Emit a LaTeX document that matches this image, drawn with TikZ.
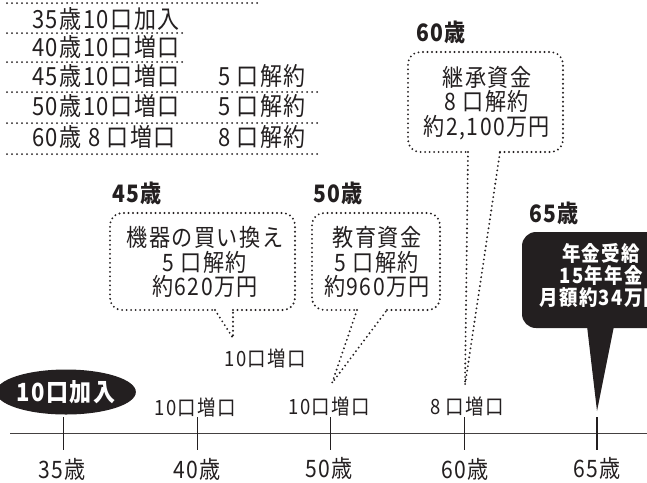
\documentclass[tikz,border=0pt]{standalone}
\usepackage{fontspec}
\setmainfont{Noto Sans CJK JP}[FakeStretch=0.88, LetterSpace=6]
\usetikzlibrary{shapes.geometric}
\definecolor{ink}{RGB}{35,31,32}
\begin{document}
\begin{tikzpicture}[x=1pt,y=-1pt,
  dotline/.style={draw=ink, line width=2.1pt, line cap=round, dash pattern=on 0pt off 4.5pt},
  tabline/.style={draw=ink, line width=2pt, line cap=round, dash pattern=on 0pt off 5pt},
  tbl/.style={font=\fontsize{25}{25}\selectfont, anchor=west, text=ink, inner sep=0pt},
  agehead/.style={font=\bfseries\fontsize{24}{24}\selectfont, text=ink, inner sep=0pt},
  bubtext/.style={font=\fontsize{24}{24.5}\selectfont, text=ink, align=center, inner sep=0pt},
  inc/.style={font=\fontsize{21}{21}\selectfont, text=ink, inner sep=0pt},
  year/.style={font=\fontsize{24}{24}\selectfont, text=ink, inner sep=0pt},
  tick/.style={draw=ink, line width=0.9pt}]
\useasboundingbox (0,0) rectangle (647,482);

% top table
\foreach \yy/\xe in {3/260, 33/182, 62/182, 92/317, 123/317, 154/317}
  \draw[tabline] (7,\yy) -- (\xe,\yy);
\node[tbl] (r1) at (32,19) {35歳10口加入};
\node[tbl] (r2) at (32,47) {40歳10口増口};
\node[tbl] (r3) at (32,76) {45歳10口増口};
\node[tbl] (r3b) at (218,76) {5 口解約};
\node[tbl] (r4) at (32,106) {50歳10口増口};
\node[tbl] (r4b) at (218,106) {5 口解約};
\node[tbl] (r5) at (32,137) {60歳 8 口増口};
\node[tbl] (r5b) at (218,137) {8 口解約};

% 45 bubble
\node[agehead] (h45) at (137,193) {45歳};
\node[bubtext] (b45) at (205,262) {機器の買い換え\\5 口解約\\約620万円};
\coordinate (b45l) at (215,310);
\coordinate (b45r) at (233,310);
\coordinate (tip45) at (233,338);
\draw[dotline, rounded corners=12] (b45r) -- (295,310) -- (295,213) -- (110,213) -- (110,310) -- (b45l);
\draw[dotline] (b45l) -- (tip45) -- (b45r);
\node[inc] (i45) at (265,358) {10口増口};

% 50 bubble
\node[agehead] (h50) at (338,193) {50歳};
\node[bubtext] (b50) at (377,262) {教育資金\\5 口解約\\約960万円};
\coordinate (b50l) at (357,310);
\coordinate (b50r) at (387,310);
\coordinate (tip50) at (332,383);
\draw[dotline, rounded corners=12] (b50r) -- (440,310) -- (440,213) -- (312,213) -- (312,310) -- (b50l);
\draw[dotline] (b50l) -- (tip50) -- (b50r);

% 60 bubble
\node[agehead] (h60) at (441,32) {60歳};
\node[bubtext] (b60) at (487,103) {継承資金\\8 口解約\\約2,100万円};
\coordinate (b60l) at (468,152);
\coordinate (b60r) at (500,152);
\coordinate (tip60) at (465,385);
\draw[dotline, rounded corners=12] (b60r) -- (563,152) -- (563,52) -- (408,52) -- (408,152) -- (b60l);
\draw[dotline] (b60l) -- (tip60) -- (b60r);

% 65 bubble
\node[agehead] (h65) at (554,213) {65歳};
\fill[ink, rounded corners=14] (522,232) rectangle (690,328);
\coordinate (b65l) at (587,326);
\coordinate (b65r) at (614,326);
\coordinate (tip65) at (597,411);
\fill[ink] (b65l) -- (tip65) -- (b65r) -- cycle;
\node[font=\bfseries\fontsize{21}{22}\selectfont, text=white, align=center, inner sep=0pt] (b65) at (601,275) {年金受給\\15年年金\\月額約34万円};

% 35 ellipse
\node[ellipse, fill=ink, minimum width=116, minimum height=45, inner sep=0pt,
      font=\bfseries\fontsize{25}{25}\selectfont, text=white] (start) at (66,392) {10口加入};

% axis
\coordinate (axl) at (10,433);
\coordinate (axr) at (647,433);
\draw[draw=ink!85, line width=0.9pt] (axl) -- (axr);
\foreach \xx in {63,197,330,464}
  \draw[tick] (\xx,417) -- (\xx,450);
\draw[tick, line width=2pt] (597,417) -- (597,450);

\node[inc] (i40) at (195,407) {10口増口};
\node[inc] (i50) at (329,406) {10口増口};
\node[inc] (i60) at (467,406) {8 口増口};

\node[year] (y35) at (62,469) {35歳};
\node[year] (y40) at (197,469) {40歳};
\node[year] (y50) at (329,468) {50歳};
\node[year] (y60) at (465,469) {60歳};
\node[year] (y65) at (597,468) {65歳};
\end{tikzpicture}
\end{document}
